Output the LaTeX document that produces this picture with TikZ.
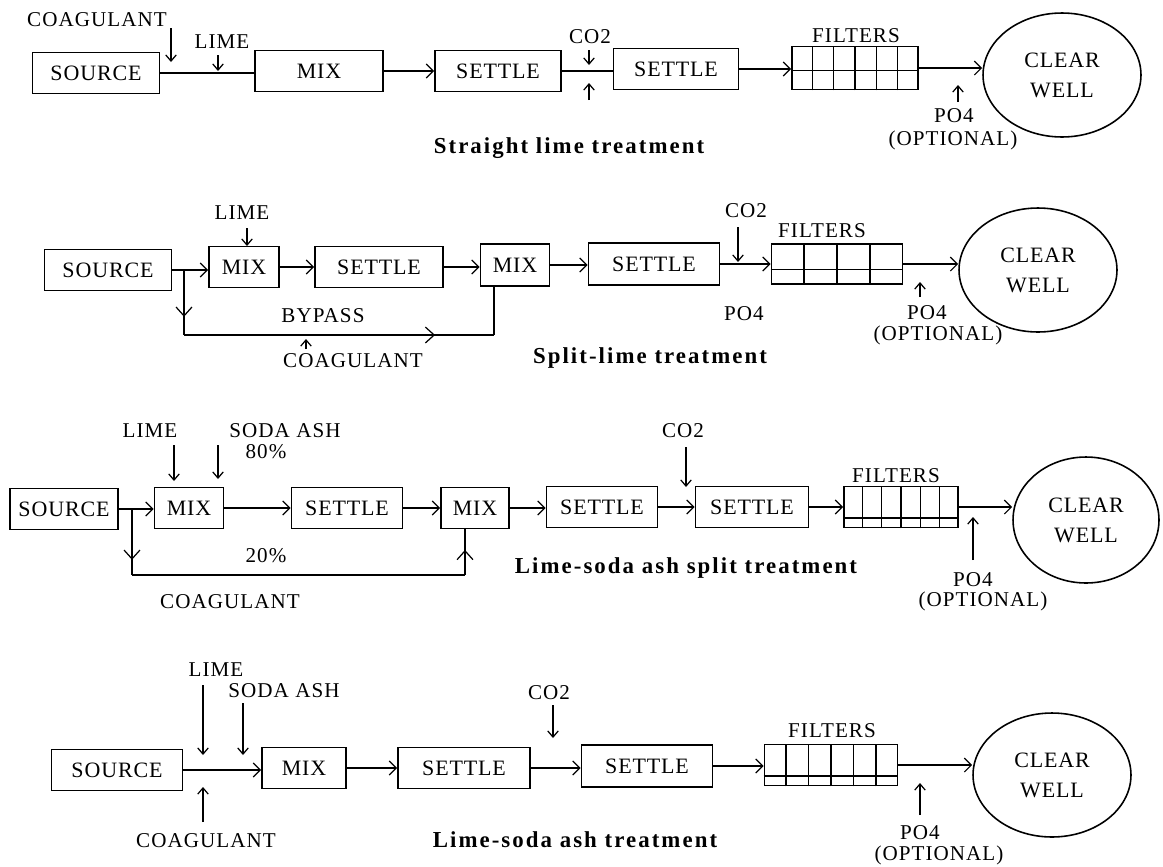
\documentclass[tikz,border=0pt]{standalone}
\usepackage{fontspec}
\setmainfont{Liberation Serif}
\newfontfamily\lblfont{Liberation Serif}[LetterSpace=5]
\newfontfamily\boxfont{Liberation Serif}[LetterSpace=4]
\newfontfamily\ttlfont{Liberation Serif}[LetterSpace=9]
\usetikzlibrary{arrows.meta,shapes.geometric,calc,decorations.markings}

\begin{document}
\begin{tikzpicture}[x=0.02cm,y=-0.02cm,
  unit/.style={draw,line width=1pt,minimum height=0.82cm,inner sep=0pt,font={\boxfont\fontsize{12.5}{15}\selectfont}},
  well/.style={draw,ellipse,line width=0.9pt,minimum width=3.16cm,minimum height=2.48cm,inner sep=0pt,align=center,font={\boxfont\fontsize{12.5}{17}\selectfont}},
  lbl/.style={inner sep=0pt,font={\lblfont\fontsize{12}{14}\selectfont}},
  ttl/.style={inner sep=0pt,font={\ttlfont\bfseries\fontsize{13}{15}\selectfont}},
  pipe/.style={line width=0.7pt},
  flow/.style={pipe,-{Straight Barb[length=4pt,width=8pt]}},
  feed/.style={pipe,-{Straight Barb[length=3.5pt,width=6pt]}},
  midarrow/.style={pipe,postaction={decorate},decoration={markings,mark=at position #1 with {\arrow{Straight Barb[length=5pt,width=9pt]}}}},
  filtline/.style={line width=0.8pt}]
\useasboundingbox (0,0) rectangle (1163,866);

% straight lime
\node[unit,minimum width=2.54cm] (src1) at (96,73) {SOURCE};
\node[unit,minimum width=2.56cm] (mix1) at (319,71) {MIX};
\node[unit,minimum width=2.52cm] (set1) at (498,71) {SETTLE};
\node[unit,minimum width=2.5cm] (set1b) at (676,69) {SETTLE};
\node[unit,minimum width=2.52cm,minimum height=0.86cm] (fil1) at (855,68) {};
\node[well] (well1) at (1062,75) {CLEAR\\WELL};
\node[lbl] (coag1) at (97,20) {COAGULANT};
\node[lbl] (lime1) at (222,42) {LIME};
\node[lbl] (co1) at (590,37) {CO2};
\node[lbl] (fl1) at (856,36) {FILTERS};
\node[lbl] (po1) at (954,116) {PO4};
\node[lbl] (opt1) at (953,140) {(OPTIONAL)};
\node[ttl] (t1) at (569,148) {Straight lime treatment};
\coordinate (c1a) at (171,28); \coordinate (c1b) at (171,62);
\coordinate (l1a) at (218,55); \coordinate (l1b) at (218,71);
\coordinate (d1a) at (589,50); \coordinate (d1b) at (589,65);
\coordinate (u1a) at (589,100); \coordinate (u1b) at (589,83);
\coordinate (p1a) at (958,102); \coordinate (p1b) at (958,85);
\foreach \k in {1,...,5}
  \draw[filtline] ($(fil1.south west)!\k/6!(fil1.south east)$) -- ($(fil1.north west)!\k/6!(fil1.north east)$);
\draw[filtline] ($(fil1.south west)!0.44!(fil1.north west)$) -- ($(fil1.south east)!0.44!(fil1.north east)$);
\draw[pipe] (src1.east) -- (src1.east -| mix1.west);
\draw[flow] (mix1.east) -- (mix1.east -| set1.west);
\draw[pipe] (set1.east) -- (set1.east -| set1b.west);
\draw[flow] (set1b.east) -- (set1b.east -| fil1.west);
\draw[flow] (fil1.east) -- (fil1.east -| well1.west);
\draw[feed] (c1a) -- (c1b);
\draw[feed] (l1a) -- (l1b);
\draw[feed] (d1a) -- (d1b);
\draw[feed] (u1a) -- (u1b);
\draw[feed] (p1a) -- (p1b);

% split lime
\node[unit,minimum width=2.54cm] (src2) at (108,270) {SOURCE};
\node[unit,minimum width=1.4cm] (mix2a) at (244,267) {MIX};
\node[unit,minimum width=2.56cm] (set2a) at (379,267) {SETTLE};
\node[unit,minimum width=1.38cm,minimum height=0.84cm] (mix2b) at (515,265) {MIX};
\node[unit,minimum width=2.62cm,minimum height=0.84cm] (set2b) at (654,264) {SETTLE};
\node[unit,minimum width=2.62cm,minimum height=0.8cm] (fil2) at (837,264) {};
\node[well] (well2) at (1038,270) {CLEAR\\WELL};
\node[lbl] (lime2) at (242,213) {LIME};
\node[lbl] (by2) at (323,316) {BYPASS};
\node[lbl] (coag2) at (353,361) {COAGULANT};
\node[lbl] (co2) at (746,211) {CO2};
\node[lbl] (po2a) at (744,314) {PO4};
\node[lbl] (fl2) at (822,231) {FILTERS};
\node[lbl] (po2) at (927,313) {PO4};
\node[lbl] (opt2) at (938,335) {(OPTIONAL)};
\node[ttl] (t2) at (650,358) {Split-lime treatment};
\coordinate (l2a) at (247,228); \coordinate (l2b) at (247,246);
\coordinate (k2a) at (306,349); \coordinate (k2b) at (306,339);
\coordinate (d2a) at (738,227); \coordinate (d2b) at (738,262);
\coordinate (p2a) at (920,297); \coordinate (p2b) at (920,282);
\coordinate (b2a) at (184,270); \coordinate (b2b) at (184,335); \coordinate (b2c) at (494,335);
\foreach \k in {1,...,3}
  \draw[filtline] ($(fil2.south west)!\k/4!(fil2.south east)$) -- ($(fil2.north west)!\k/4!(fil2.north east)$);
\draw[filtline] ($(fil2.south west)!0.375!(fil2.north west)$) -- ($(fil2.south east)!0.375!(fil2.north east)$);
\draw[flow] (src2.east) -- (src2.east -| mix2a.west);
\draw[flow] (mix2a.east) -- (mix2a.east -| set2a.west);
\draw[flow] (set2a.east) -- (set2a.east -| mix2b.west);
\draw[flow] (mix2b.east) -- (mix2b.east -| set2b.west);
\draw[flow] (set2b.east) -- (set2b.east -| fil2.west);
\draw[flow] (fil2.east) -- (fil2.east -| well2.west);
\draw[midarrow=0.72] (b2a) -- (b2b);
\draw[midarrow=0.81] (b2b) -- (b2c);
\draw[pipe] (b2c) -- (b2c |- mix2b.south);
\draw[feed] (l2a) -- (l2b);
\draw[feed] (k2a) -- (k2b);
\draw[feed] (d2a) -- (d2b);
\draw[feed] (p2a) -- (p2b);

% lime-soda ash split
\node[unit,minimum width=2.16cm] (src3) at (64,509) {SOURCE};
\node[unit,minimum width=1.38cm] (mix3a) at (189,508) {MIX};
\node[unit,minimum width=2.22cm] (set3a) at (347,508) {SETTLE};
\node[unit,minimum width=1.36cm] (mix3b) at (475,508) {MIX};
\node[unit,minimum width=2.22cm] (set3b) at (602,507) {SETTLE};
\node[unit,minimum width=2.26cm] (set3c) at (752,507) {SETTLE};
\node[unit,minimum width=2.28cm] (fil3) at (901,507) {};
\node[well,minimum width=2.92cm,minimum height=2.52cm] (well3) at (1086,520) {CLEAR\\WELL};
\node[lbl] (lime3) at (150,431) {LIME};
\node[lbl] (soda3) at (285,431) {SODA ASH};
\node[lbl] (pc80) at (266,452) {80\%};
\node[lbl] (pc20) at (266,556) {20\%};
\node[lbl] (coag3) at (230,602) {COAGULANT};
\node[lbl] (co3) at (683,431) {CO2};
\node[lbl] (fl3) at (896,476) {FILTERS};
\node[lbl] (po3) at (973,580) {PO4};
\node[lbl] (opt3) at (983,601) {(OPTIONAL)};
\node[ttl] (t3) at (686,568) {Lime-soda ash split treatment};
\coordinate (l3a) at (174,445); \coordinate (l3b) at (174,481);
\coordinate (s3a) at (218,445); \coordinate (s3b) at (218,479);
\coordinate (d3a) at (686,447); \coordinate (d3b) at (686,487);
\coordinate (p3a) at (973,560); \coordinate (p3b) at (973,517);
\coordinate (b3a) at (132,509); \coordinate (b3b) at (132,575); \coordinate (b3c) at (465,575);
\foreach \k in {1,...,5}
  \draw[filtline] ($(fil3.south west)!\k/6!(fil3.south east)$) -- ($(fil3.north west)!\k/6!(fil3.north east)$);
\draw[filtline] ($(fil3.south west)!0.24!(fil3.north west)$) -- ($(fil3.south east)!0.24!(fil3.north east)$);
\draw[flow] (src3.east) -- (src3.east -| mix3a.west);
\draw[flow] (mix3a.east) -- (mix3a.east -| set3a.west);
\draw[flow] (set3a.east) -- (set3a.east -| mix3b.west);
\draw[flow] (mix3b.east) -- (mix3b.east -| set3b.west);
\draw[flow] (set3b.east) -- (set3b.east -| set3c.west);
\draw[flow] (set3c.east) -- (set3c.east -| fil3.west);
\draw[flow] (fil3.east) -- (fil3.east -| well3.west);
\draw[midarrow=0.77] (b3a) -- (b3b);
\draw[pipe] (b3b) -- (b3c);
\draw[midarrow=0.55] (b3c) -- (b3c |- mix3b.south);
\draw[feed] (l3a) -- (l3b);
\draw[feed] (s3a) -- (s3b);
\draw[feed] (d3a) -- (d3b);
\draw[feed] (p3a) -- (p3b);

% lime-soda ash
\node[unit,minimum width=2.62cm] (src4) at (117,770) {SOURCE};
\node[unit,minimum width=1.68cm] (mix4) at (304,768) {MIX};
\node[unit,minimum width=2.64cm] (set4a) at (464,768) {SETTLE};
\node[unit,minimum width=2.62cm,minimum height=0.84cm] (set4b) at (647,766) {SETTLE};
\node[unit,minimum width=2.66cm] (fil4) at (831,765) {};
\node[well] (well4) at (1052,775) {CLEAR\\WELL};
\node[lbl] (lime4) at (216,670) {LIME};
\node[lbl] (soda4) at (284,691) {SODA ASH};
\node[lbl] (coag4) at (206,841) {COAGULANT};
\node[lbl] (co4) at (549,693) {CO2};
\node[lbl] (fl4) at (832,731) {FILTERS};
\node[lbl] (po4) at (920,833) {PO4};
\node[lbl] (opt4) at (939,855) {(OPTIONAL)};
\node[ttl] (t4) at (575,840) {Lime-soda ash treatment};
\coordinate (l4a) at (203,685); \coordinate (l4b) at (203,755);
\coordinate (s4a) at (243,703); \coordinate (s4b) at (243,755);
\coordinate (k4a) at (203,822); \coordinate (k4b) at (203,787);
\coordinate (d4a) at (553,705); \coordinate (d4b) at (553,738);
\coordinate (p4a) at (920,815); \coordinate (p4b) at (920,783);
\foreach \k in {1,...,5}
  \draw[filtline] ($(fil4.south west)!\k/6!(fil4.south east)$) -- ($(fil4.north west)!\k/6!(fil4.north east)$);
\draw[filtline] ($(fil4.south west)!0.24!(fil4.north west)$) -- ($(fil4.south east)!0.24!(fil4.north east)$);
\draw[flow] (src4.east) -- (src4.east -| mix4.west);
\draw[flow] (mix4.east) -- (mix4.east -| set4a.west);
\draw[flow] (set4a.east) -- (set4a.east -| set4b.west);
\draw[flow] (set4b.east) -- (set4b.east -| fil4.west);
\draw[flow] (fil4.east) -- (fil4.east -| well4.west);
\draw[feed] (l4a) -- (l4b);
\draw[feed] (s4a) -- (s4b);
\draw[feed] (k4a) -- (k4b);
\draw[feed] (d4a) -- (d4b);
\draw[feed] (p4a) -- (p4b);
\end{tikzpicture}
\end{document}
